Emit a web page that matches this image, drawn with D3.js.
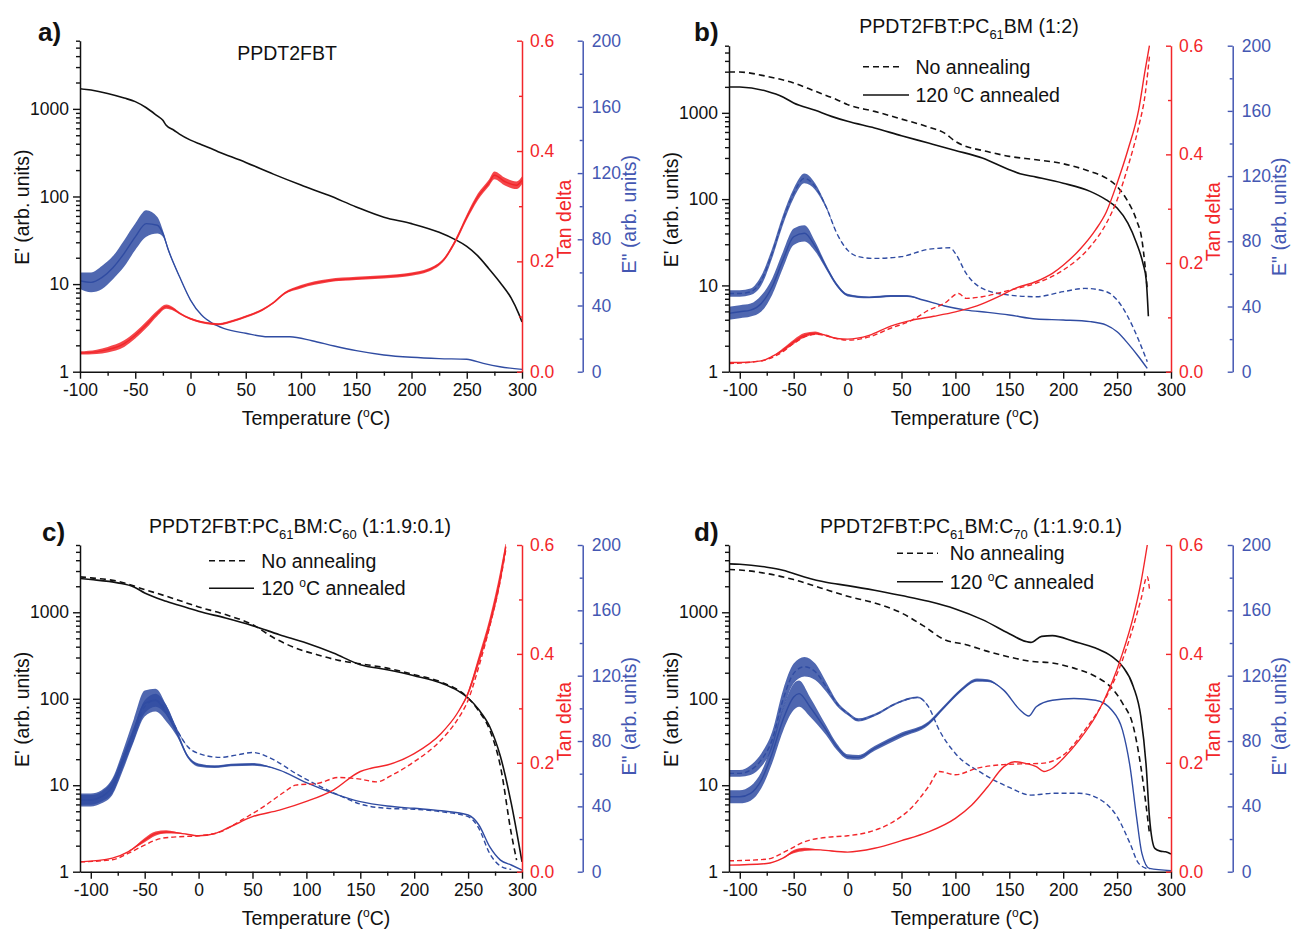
<!DOCTYPE html>
<html><head><meta charset="utf-8">
<script src="https://cdn.jsdelivr.net/npm/d3@7"></script>
<style>
body{margin:0;background:#fff;}
svg text{font-family:"Liberation Sans",Arial,Helvetica,sans-serif;}
</style></head><body>
<svg id="c" width="1292" height="930"></svg>
<script>
// ---------------- DATA ----------------
// each point: [temperature °C, value, optional noise half-width]
const xTicks = [-100,-50,0,50,100,150,200,250,300];
const xMinor = [-75,-25,25,75,125,175,225,275];
const eTicks = [1,10,100,1000];
const tanTicks = [0,0.2,0.4,0.6];
const tanMinor = [0.1,0.3,0.5];
const lossTicks = [0,40,80,120,160,200];
const lossMinor = [20,60,100,140,180];
const panelLetters = ["a)","b)","c)","d)"];
const titleA = [["PPDT2FBT",0]];
const titleB = [["PPDT2FBT:PC",0],["61",1],["BM (1:2)",0]];
const titleC = [["PPDT2FBT:PC",0],["61",1],["BM:C",0],["60",1],[" (1:1.9:0.1)",0]];
const titleD = [["PPDT2FBT:PC",0],["61",1],["BM:C",0],["70",1],[" (1:1.9:0.1)",0]];
const legendLabels = ["No annealing","120 °C annealed"];

// panel a
const aStorage = [[-100,1700],[-90,1640],[-75,1500],[-60,1330],[-50,1210],[-40,1030],[-30,830],[-25,740],[-22,650],[-15,570],[-10,515],[0,440],[10,390],[25,325],[50,245],[75,180],[100,135],[125,103],[150,76],[175,58],[200,49],[225,39],[240,32],[250,27],[260,21],[270,15],[280,10.5],[290,7],[297,4.6],[300,3.7]];
const aTan = [[-100,0.034,0.003],[-85,0.036,0.004],[-75,0.040,0.005],[-60,0.051,0.006],[-50,0.066,0.006],[-40,0.085,0.006],[-30,0.106,0.005],[-22,0.118,0.004],[-15,0.113,0.003],[-10,0.106,0.002],[0,0.096,0.002],[15,0.088,0.002],[25,0.086,0.002],[40,0.093,0.002],[50,0.100,0.002],[65,0.112,0.002],[75,0.125,0.002],[85,0.142,0.002],[100,0.154,0.003],[125,0.165,0.003],[150,0.169,0.003],[175,0.172,0.003],[200,0.177,0.003],[215,0.184,0.003],[230,0.205,0.003],[240,0.238,0.004],[250,0.280,0.005],[260,0.317,0.006],[270,0.342,0.006],[275,0.356,0.007],[285,0.344,0.007],[295,0.338,0.007],[300,0.347,0.007]];
const aLoss = [[-100,55,5],[-90,54,6],[-80,57,7],[-70,63,7],[-60,71.5,8],[-50,81.5,8],[-40,89.5,8],[-30,88.5,5],[-25,83.5,2],[-20,73.5,1],[-10,57.5,0.5],[0,43.3,0.3],[10,34.2],[20,29.2],[30,26.2],[50,23.2],[70,21.1],[90,21.1],[110,18.7],[130,15.5],[150,12.7],[175,10.1],[200,8.7],[225,7.9],[250,7.5],[265,5],[280,3],[300,1.4]];

// panel b
const bStorageNo = [[-110,2980],[-100,2970],[-75,2650],[-50,2220],[-30,1780],[-10,1420],[0,1245],[25,1040],[50,847],[75,685],[90,583],[100,467],[110,408],[125,367],[150,313],[175,286],[200,257],[225,209],[240,175],[250,140],[260,94],[268,57],[273,34],[276,16.5],[278,8.9]];
const bStorageAnn = [[-110,1995],[-100,1990],[-75,1780],[-60,1527],[-50,1300],[-30,1070],[-15,910],[0,797],[25,667],[50,543],[75,447],[100,367],[125,299],[150,219],[160,197],[175,180],[200,153],[225,123],[240,98],[250,79],[260,52.6],[268,31],[274,18],[277,11.6],[279,4.4]];
const bTanNo = [[-110,0.015],[-80,0.020],[-60,0.037],[-50,0.052],[-40,0.064],[-30,0.069],[-20,0.066],[-10,0.061],[0,0.058],[20,0.064],[40,0.080],[60,0.095],[75,0.113],[90,0.126],[103,0.144],[110,0.135],[125,0.138],[150,0.150],[175,0.163],[200,0.187],[225,0.230],[240,0.273],[250,0.316],[260,0.377],[270,0.451],[276,0.51],[280,0.58]];
const bTanAnn = [[-110,0.017],[-100,0.017],[-80,0.020],[-70,0.028],[-60,0.040,0.003],[-50,0.055,0.004],[-40,0.067,0.004],[-30,0.071,0.003],[-20,0.067],[-10,0.061],[0,0.060],[20,0.067],[40,0.084],[60,0.095],[80,0.102],[100,0.110],[120,0.121],[140,0.138],[155,0.153],[175,0.166],[190,0.181],[200,0.196],[215,0.224],[230,0.261],[240,0.294],[250,0.347],[260,0.408],[270,0.482],[276,0.555],[280,0.6]];
const bLossNo = [[-110,48,2],[-100,48,2],[-90,49,2],[-80,56,3],[-70,72.6,3],[-60,93,3],[-50,109.4,3],[-40,118.6,3],[-30,113.5,2],[-20,101.2,1],[-10,84.9],[0,74.6],[10,70.6],[25,69.5],[50,70.6],[75,75.1],[95,76],[100,72.6],[110,60.3],[125,51.1],[150,47],[175,46],[200,49.1],[220,51.1],[240,49.1],[250,44],[260,33.7],[270,19.4],[278,6.1]];
const bLossAnn = [[-110,35.8,4],[-100,36.8,4],[-90,37.8,4],[-80,41.9,5],[-70,52.1,5],[-60,68.5,5],[-50,82.8,5],[-40,84.9,5],[-30,76.7,3],[-20,64.4,1.5],[-10,53.2,1],[0,47,0.8],[20,45.6,0.6],[40,46.4,0.6],[55,46.4,0.5],[70,44],[90,40.3],[110,37.8],[130,36.4],[150,34.8],[175,32.3],[200,31.7],[225,30.7],[240,28.6],[250,24.5],[260,17.4],[270,9.2],[278,2]];

// panel c
const cStorageNo = [[-110,2566],[-100,2500],[-75,2286],[-50,1832],[-25,1466],[0,1153],[25,940],[50,720],[70,505],[90,386],[110,323],[130,278],[150,254],[175,226],[200,190],[225,156],[250,102],[260,72],[270,43.8],[280,16.5],[290,2.8],[295,1.36]];
const cStorageAnn = [[-110,2455],[-100,2390],[-75,2190],[-60,1965],[-50,1675],[-30,1340],[-10,1122],[0,1027],[25,860],[50,701],[75,551],[100,441],[125,338],[150,248],[175,217],[200,185],[225,152],[240,125],[250,102],[260,74.6],[270,47.8],[280,21.5],[290,6.2],[300,1.3]];
const cTanNo = [[-110,0.018],[-80,0.022],[-65,0.034],[-50,0.049],[-35,0.061],[-20,0.064],[0,0.066],[20,0.073],[40,0.095],[60,0.119],[80,0.147],[90,0.159],[110,0.162],[130,0.173],[150,0.170],[165,0.165],[180,0.178],[200,0.202],[225,0.242],[240,0.279],[250,0.315],[260,0.377],[270,0.45],[280,0.536],[285,0.591]];
const cTanAnn = [[-110,0.018],[-80,0.025],[-65,0.037],[-50,0.058,0.004],[-40,0.070,0.004],[-30,0.073,0.003],[-15,0.070],[0,0.066],[15,0.070],[30,0.083],[50,0.101],[75,0.113],[100,0.129],[125,0.150],[150,0.184],[160,0.190],[175,0.196],[200,0.217],[225,0.254],[240,0.291],[250,0.328,0.004],[260,0.389,0.008],[270,0.456,0.01],[280,0.542,0.012],[285,0.597,0.01]];
const cLossNo = [[-110,43.9,3],[-100,44,3],[-90,46,3],[-80,52,4],[-70,68,4],[-60,84.7,4],[-50,101,4],[-40,105,4],[-30,99,3],[-20,86.7,1],[-10,76.5],[0,72.4],[20,70],[35,71.4],[50,73],[70,68.4],[90,60.2],[110,53.1],[130,46.9],[150,41.4],[175,38.8],[200,38.2],[225,36.7],[250,33.7],[260,26.5],[270,11.2],[280,3.5],[290,1.4]];
const cLossAnn = [[-110,43.9,4],[-100,43.9,4],[-90,45.9,4],[-80,52,5],[-70,68.4,6],[-60,86.7,7],[-50,103,8],[-40,105,7],[-30,97,5],[-20,84.7,2],[-10,70.4,1],[0,65.3,1],[15,64.3,0.8],[30,65.3,0.8],[50,65.7,0.8],[75,62.2],[100,54.5],[125,48],[150,42.9],[175,40.2],[200,38.8],[225,37.3],[250,34.7],[260,28.6],[270,15.3],[280,7.1],[290,4.1],[300,1]];

// panel d
const dStorageNo = [[-110,3120],[-100,3080],[-75,2805],[-50,2390],[-25,1913],[0,1532],[25,1282],[50,982],[70,701],[90,482],[110,422],[130,353],[150,304],[170,271],[190,259],[210,226],[230,181],[245,133],[255,89],[265,47.9],[272,16.5],[277,5.7],[280,2.78]];
const dStorageAnn = [[-110,3630],[-100,3600],[-75,3320],[-60,3063],[-40,2565],[-20,2225],[0,2035],[25,1798],[50,1560],[75,1340],[100,1093],[125,823],[150,566],[165,461],[170,449],[180,527],[190,537],[210,461],[230,386],[245,309],[255,237],[265,139],[272,62.4],[277,16.5],[280,4.3],[285,1.86],[290,1.73],[295,1.7],[300,1.6]];
const dTanNo = [[-110,0.020],[-75,0.023],[-55,0.040],[-40,0.055],[-20,0.063],[0,0.066],[20,0.073],[40,0.089],[60,0.119],[75,0.156],[85,0.184],[100,0.178],[120,0.190],[140,0.196],[160,0.198],[180,0.199],[200,0.214],[220,0.26],[240,0.321],[255,0.389],[265,0.45],[272,0.499],[278,0.542],[280,0.52]];
const dTanAnn = [[-110,0.012],[-75,0.015],[-60,0.025],[-50,0.037,0.003],[-40,0.041,0.003],[-25,0.040],[0,0.036],[25,0.043],[50,0.057],[75,0.073],[100,0.098],[115,0.122],[130,0.156],[145,0.193],[155,0.202],[165,0.199],[175,0.193],[182,0.184],[190,0.190],[200,0.208],[215,0.242],[230,0.285],[245,0.346],[255,0.401],[265,0.468],[272,0.53],[278,0.6]];
const dLossNo = [[-110,60.2,2],[-100,60.2,2],[-90,62.2,3],[-80,68.4,4],[-70,80.6,5],[-60,105,6],[-50,121.4,6],[-40,125.5,6],[-30,122.4,5],[-20,113.3,3],[-10,103,1.5],[0,96.9,1],[10,92.9,1],[25,95.9,0.8],[45,103,0.6],[65,106.7,0.5],[75,101],[85,86.7],[100,72.4],[125,60.2],[150,51.6],[170,46.9],[190,48],[215,48],[235,43.9],[250,33.7],[262,17.3],[270,5.1],[280,1.4]];
const dLossAnn = [[-110,45.9,4],[-100,45.9,4],[-90,48,4.5],[-80,56.1,5],[-70,72.4,6],[-60,92.9,7],[-50,107,8],[-45,109,8],[-35,101,6],[-20,86.7,3],[-10,76.5,2],[0,70.4,1.5],[10,70,1.5],[25,75.5,1.5],[50,83.7,1.5],[75,90.8,1.2],[90,101,1],[105,111,1],[120,117.3,1],[130,117,0.8],[145,111],[160,99],[168,95.3],[175,101],[190,105],[210,106],[230,105],[245,99],[255,86.7],[262,64.3],[268,33.7],[273,11.2],[280,2],[300,0.6]];

// ---------------- DRAWING ----------------
const RED = "#f2262a", BLUE = "#304ca2", BLUEAX = "#4457b2", BLACK = "#111";
const svg = d3.select("#c");
svg.append("rect").attr("width",1292).attr("height",930).attr("fill","#fff");

const FT = 17.5, FL = 19.5;
const plainNum = d => String(d);            // hyphen-minus like the reference
const oneDec = d => d.toFixed(1);

const eMinor = [];
[1,10,100,1000].forEach(dec => { for (let m=2;m<=9;m++){ const v=m*dec; if (v<=6000) eMinor.push(v);} });

function styleAxis(sel, color){
  sel.selectAll("path").attr("stroke",color).attr("stroke-width",1.5);
  sel.selectAll("line").attr("stroke",color).attr("stroke-width",1.4);
  sel.selectAll("text").attr("fill",color).attr("font-size",FT)
     .attr("font-family",'"Liberation Sans",Arial,sans-serif');
}

function degText(sel, before, after){
  sel.append("tspan").text(before);
  sel.append("tspan").text("o").attr("font-size",FL*0.62).attr("dy",-8);
  sel.append("tspan").text(after).attr("dy",8);
}

function drawPanel(p, idx, title, series, legend){
  const g = svg.append("g");
  const x = d3.scaleLinear().domain(p.xd).range([p.L,p.R]);
  const yE = d3.scaleLog().domain([1,6000]).range([p.B,p.T]);
  const yT = d3.scaleLinear().domain([0,0.6]).range([p.B,p.T]);
  const yL = d3.scaleLinear().domain([0,200]).range([p.B,p.T]);
  const ys = {E:yE, T:yT, L:yL};
  const cols = {E:BLACK, T:RED, L:BLUE};

  const clipId = "clip"+idx;
  svg.append("clipPath").attr("id",clipId).append("rect")
     .attr("x",p.L).attr("y",p.T-1).attr("width",p.R-p.L+1).attr("height",p.B-p.T+1);
  const plot = g.append("g").attr("clip-path",`url(#${clipId})`);

  const order = ["L","E","T"];
  order.forEach(k => {
    series.filter(s=>s.k===k).forEach(s => {
      const y = ys[k], col = cols[k];
      if (s.d.some(d=>d[2])) {
        const area = d3.area().x(d=>x(d[0]))
          .y0(d=>y(d[1]-(d[2]||0))).y1(d=>y(d[1]+(d[2]||0)))
          .curve(d3.curveMonotoneX);
        plot.append("path").attr("d",area(s.d)).attr("fill",col).attr("fill-opacity",0.85);
      }
      const line = d3.line().x(d=>x(d[0])).y(d=>y(d[1])).curve(d3.curveMonotoneX);
      plot.append("path").attr("d",line(s.d)).attr("fill","none").attr("stroke",col)
        .attr("stroke-width", k==="E"?1.6:1.4)
        .attr("stroke-dasharray", s.dash ? (k==="E"?"6 4":"5 3") : null);
    });
  });

  // left axis (log)
  const la = g.append("g").attr("transform",`translate(${p.L},0)`)
    .call(d3.axisLeft(yE).tickValues(eTicks).tickFormat(plainNum).tickSizeInner(7).tickSizeOuter(0).tickPadding(4));
  styleAxis(la, BLACK);
  const lm = g.append("g").attr("transform",`translate(${p.L},0)`)
    .call(d3.axisLeft(yE).tickValues(eMinor).tickFormat("").tickSizeInner(4).tickSizeOuter(0));
  lm.select("path").remove(); styleAxis(lm, BLACK);

  // bottom axis
  const ba = g.append("g").attr("transform",`translate(0,${p.B})`)
    .call(d3.axisBottom(x).tickValues(xTicks).tickFormat(plainNum).tickSizeInner(7).tickSizeOuter(0).tickPadding(5));
  styleAxis(ba, BLACK);
  const bm = g.append("g").attr("transform",`translate(0,${p.B})`)
    .call(d3.axisBottom(x).tickValues(xMinor).tickFormat("").tickSizeInner(4).tickSizeOuter(0));
  bm.select("path").remove(); styleAxis(bm, BLACK);

  // red axis
  const ra = g.append("g").attr("transform",`translate(${p.R},0)`)
    .call(d3.axisRight(yT).tickValues(tanTicks).tickFormat(oneDec).tickSizeInner(-5).tickSizeOuter(0).tickPadding(8));
  styleAxis(ra, RED);
  const rm = g.append("g").attr("transform",`translate(${p.R},0)`)
    .call(d3.axisRight(yT).tickValues(tanMinor).tickFormat("").tickSizeInner(-3).tickSizeOuter(0));
  rm.select("path").remove(); styleAxis(rm, RED);

  // blue axis
  const bla = g.append("g").attr("transform",`translate(${p.BX},0)`)
    .call(d3.axisRight(yL).tickValues(lossTicks).tickFormat(plainNum).tickSizeInner(-5).tickSizeOuter(0).tickPadding(9));
  styleAxis(bla, BLUEAX);
  const blm = g.append("g").attr("transform",`translate(${p.BX},0)`)
    .call(d3.axisRight(yL).tickValues(lossMinor).tickFormat("").tickSizeInner(-3).tickSizeOuter(0));
  blm.select("path").remove(); styleAxis(blm, BLUEAX);

  // axis titles
  const cy = (p.T+p.B)/2;
  g.append("text").attr("transform",`translate(${p.L-57.5},${cy+1}) rotate(-90)`)
    .attr("text-anchor","middle").attr("dy","0.35em").attr("font-size",FL).attr("fill",BLACK)
    .text("E' (arb. units)");
  g.append("text").attr("transform",`translate(${p.R+42},${cy+13}) rotate(-90)`)
    .attr("text-anchor","middle").attr("dy","0.35em").attr("font-size",FL).attr("fill",RED)
    .text("Tan delta");
  g.append("text").attr("transform",`translate(${p.BX+46},${cy+8}) rotate(-90)`)
    .attr("text-anchor","middle").attr("dy","0.35em").attr("font-size",FL).attr("fill",BLUEAX)
    .text('E" (arb. units)');
  const tt = g.append("text").attr("x",(p.L+p.R)/2+15).attr("y",p.B+53)
    .attr("text-anchor","middle").attr("font-size",FL).attr("fill",BLACK);
  degText(tt, "Temperature (", "C)");

  // panel letter
  g.append("text").attr("x",p.lx).attr("y",p.ly).attr("font-size",26).attr("font-weight","bold")
    .attr("fill",BLACK).text(panelLetters[idx]);

  // title
  const t = g.append("text").attr("x",p.tx).attr("y",p.ty).attr("text-anchor","middle")
    .attr("font-size",FL).attr("fill",BLACK);
  let shifted = false;
  title.forEach(([s,sub]) => {
    const ts = t.append("tspan").text(s);
    if (sub) { ts.attr("font-size",13).attr("dy",6); shifted = true; }
    else if (shifted) { ts.attr("dy",-6); shifted = false; }
  });

  // legend
  if (legend) {
    const [lx, ly1, ly2, dashEnd, solidEnd, textX] = legend;
    g.append("line").attr("x1",lx).attr("x2",dashEnd).attr("y1",ly1).attr("y2",ly1)
      .attr("stroke",BLACK).attr("stroke-width",1.6).attr("stroke-dasharray","6 4");
    g.append("text").attr("x",textX).attr("y",ly1+7).attr("font-size",FL).attr("fill",BLACK).text(legendLabels[0]);
    g.append("line").attr("x1",lx).attr("x2",solidEnd).attr("y1",ly2).attr("y2",ly2)
      .attr("stroke",BLACK).attr("stroke-width",1.6);
    const lt = g.append("text").attr("x",textX).attr("y",ly2+7).attr("font-size",FL).attr("fill",BLACK);
    const parts = legendLabels[1].split("°");
    degText(lt, parts[0], parts[1]);
  }
}

const layouts = [
  {L:80, R:522, T:40.7, B:371.7, BX:582.7, xd:[-100,300], lx:38, ly:41, tx:287, ty:60},
  {L:729, R:1171, T:45.7, B:371.7, BX:1232.7, xd:[-110,300], lx:694, ly:41, tx:969, ty:33},
  {L:80, R:522, T:545, B:871.7, BX:582.7, xd:[-110,300], lx:42, ly:541, tx:300, ty:533},
  {L:729, R:1171, T:545, B:871.7, BX:1232.7, xd:[-110,300], lx:694, ly:541, tx:971, ty:533}
];

drawPanel(layouts[0], 0, titleA, [
  {d:aLoss,k:"L"},{d:aStorage,k:"E"},{d:aTan,k:"T"}
], null);
drawPanel(layouts[1], 1, titleB, [
  {d:bLossNo,k:"L",dash:true},{d:bLossAnn,k:"L"},
  {d:bStorageNo,k:"E",dash:true},{d:bStorageAnn,k:"E"},
  {d:bTanNo,k:"T",dash:true},{d:bTanAnn,k:"T"}
], [863, 66.7, 95, 903, 909, 915.5]);
drawPanel(layouts[2], 2, titleC, [
  {d:cLossNo,k:"L",dash:true},{d:cLossAnn,k:"L"},
  {d:cStorageNo,k:"E",dash:true},{d:cStorageAnn,k:"E"},
  {d:cTanNo,k:"T",dash:true},{d:cTanAnn,k:"T"}
], [209, 560.7, 588.3, 249, 254, 261.3]);
drawPanel(layouts[3], 3, titleD, [
  {d:dLossNo,k:"L",dash:true},{d:dLossAnn,k:"L"},
  {d:dStorageNo,k:"E",dash:true},{d:dStorageAnn,k:"E"},
  {d:dTanNo,k:"T",dash:true},{d:dTanAnn,k:"T"}
], [897, 553.3, 581.7, 938, 943, 949.7]);
</script>
</body></html>
